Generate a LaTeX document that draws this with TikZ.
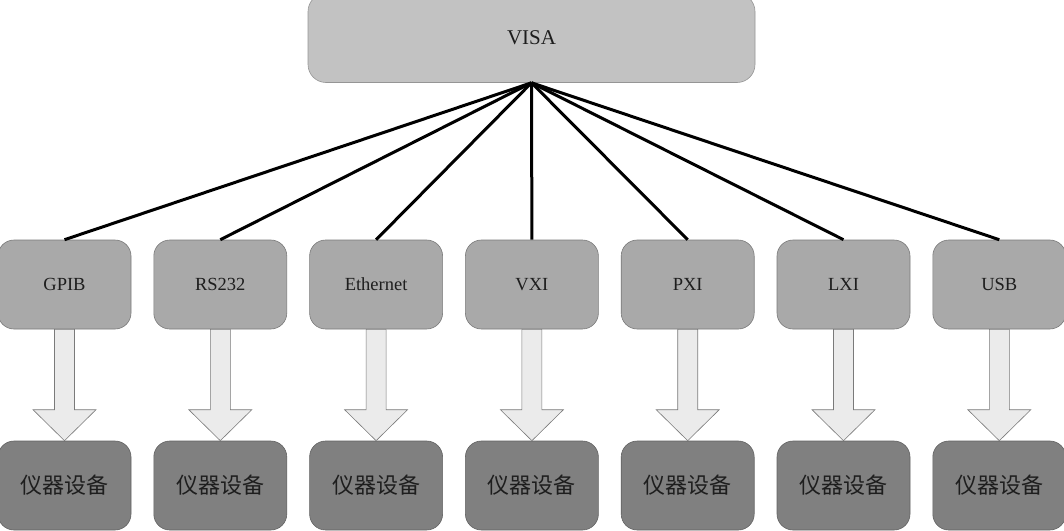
\documentclass[tikz,border=0pt]{standalone}
\usepackage{fontspec}
\setmainfont{Liberation Serif}
\newfontfamily\cjk{Noto Sans CJK SC}
\usetikzlibrary{calc}
\definecolor{topfill}{HTML}{C2C2C2}
\definecolor{midfill}{HTML}{A9A9A9}
\definecolor{botfill}{HTML}{808080}
\definecolor{arrfill}{HTML}{EBEBEB}
\definecolor{edgegray}{HTML}{7A7A7A}
\definecolor{txt}{HTML}{1E1E1E}
\tikzset{
  topbox/.style={rectangle, rounded corners=18pt, fill=topfill, draw=edgegray!80, line width=0.6pt,
    minimum width=447pt, minimum height=89pt, inner sep=0pt, text=txt, font=\fontsize{21}{21}\selectfont},
  midbox/.style={rectangle, rounded corners=16pt, fill=midfill, draw=edgegray, line width=0.6pt,
    minimum width=133pt, minimum height=89pt, inner sep=0pt, text=txt, font=\fontsize{18.5}{18.5}\selectfont},
  botbox/.style={rectangle, rounded corners=16pt, fill=botfill, draw=edgegray!80!black, line width=0.6pt,
    minimum width=133pt, minimum height=89pt, inner sep=0pt, text=txt, font=\cjk\fontsize{22}{22}\selectfont},
  link/.style={draw=black, line width=3pt},
  barrow/.style={fill=arrfill, draw=edgegray, line width=0.6pt},
}
\newcommand\blockarrow[2]{%
  \path[barrow] ($(#1.south)+(-10,0)$) -- ($(#2.north)+(-10,-31)$) -- ($(#2.north)+(-31.5,-31)$)
    -- (#2.north) -- ($(#2.north)+(31.5,-31)$) -- ($(#2.north)+(10,-31)$) -- ($(#1.south)+(10,0)$) -- cycle;}
\begin{document}
\begin{tikzpicture}[x=1pt,y=-1pt]
\clip (0,0) rectangle (1064,530);
\node[topbox] (visa) at (531.5,38) {VISA};
\foreach \n/\t [count=\i from 0] in {gpib/GPIB,rs/RS232,eth/Ethernet,vxi/VXI,pxi/PXI,lxi/LXI,usb/USB}{
  \node[midbox] (\n) at ({64.5+155.8*\i},284.5) {\t};
  \node[botbox] (\n b) at ({64.5+155.8*\i},485.5) {仪器设备};
  \draw[link] (visa.south) -- (\n.north);
  \blockarrow{\n}{\n b}
}
\end{tikzpicture}
\end{document}
